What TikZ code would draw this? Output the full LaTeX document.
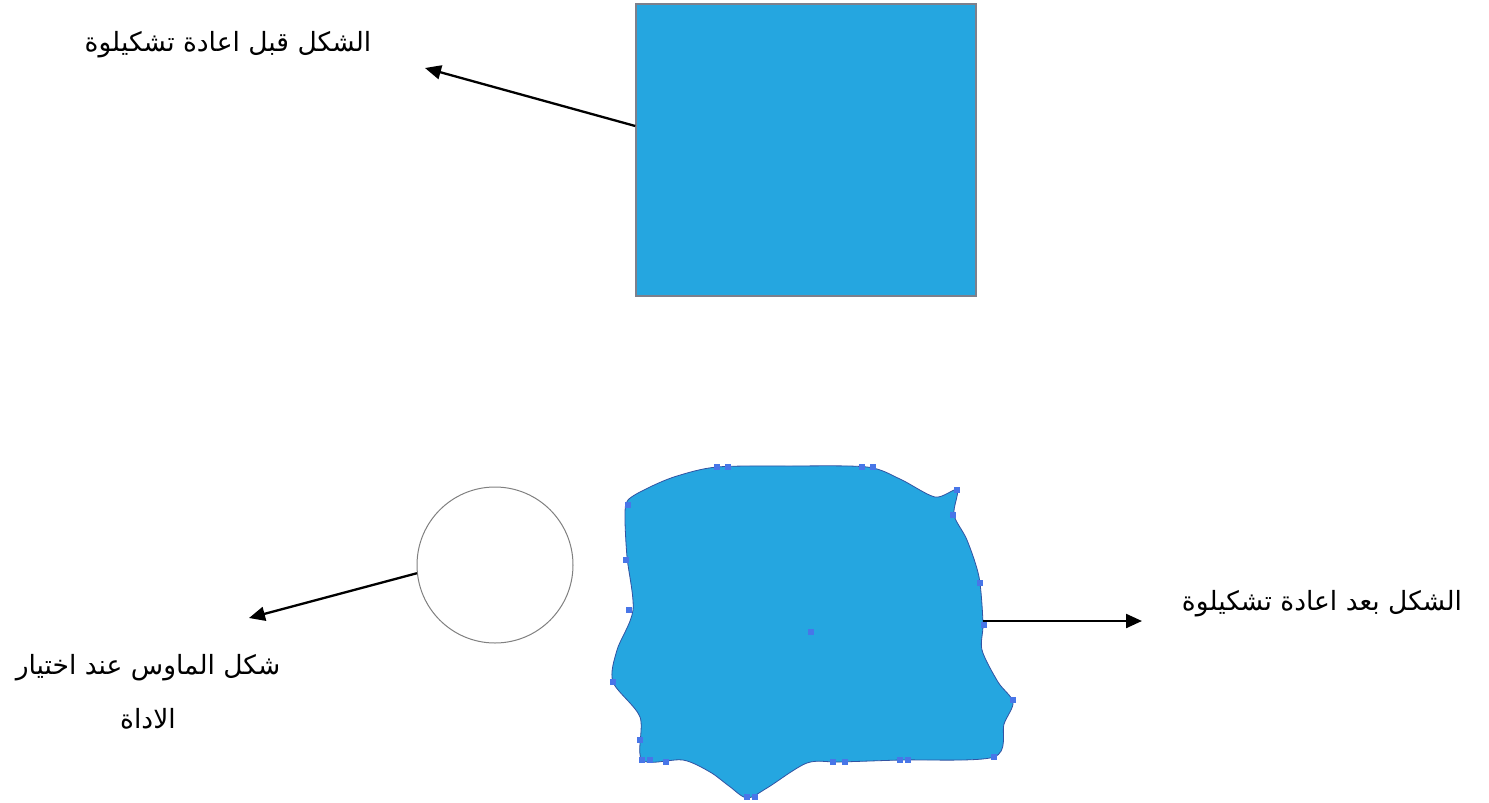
\documentclass[tikz,border=0pt]{standalone}
\usepackage{fontspec}
\usetikzlibrary{arrows.meta}
\newfontfamily\arabicfont[Script=Arabic]{DejaVu Sans}
\TeXXeTstate=1
\definecolor{shapeblue}{RGB}{37,166,224}
\definecolor{anchorblue}{RGB}{72,118,232}
\definecolor{edgegray}{RGB}{125,128,140}
\begin{document}
\begin{tikzpicture}[x=1pt,y=-1pt,
  lbl/.style={font=\arabicfont\fontsize{26.5}{54}\selectfont, inner sep=0pt, text=black},
  arr/.style={-{Triangle[length=16pt,width=14pt]}, line width=2.3pt, black},
  sqbox/.style={rectangle, fill=shapeblue, draw=edgegray, line width=1.5pt, minimum width=340pt, minimum height=292pt, inner sep=0pt},
  mousecirc/.style={circle, draw=gray, line width=1pt, minimum size=156pt, inner sep=0pt},
  handle/.style={fill=anchorblue, minimum size=6pt, inner sep=0pt, rectangle}]
\useasboundingbox (0,0) rectangle (1489,803);
\fill[white] (0,0) rectangle (1489,803);
% square before reshaping
\node[sqbox] (sq) at (806,150) {};
% mouse circle
\node[mousecirc] (mouse) at (495,565) {};
% reshaped blob
\fill[shapeblue, draw=anchorblue!70!black, line width=0.8pt] plot[smooth cycle, tension=0.5] coordinates {
 (628,500) (650,487) (677,476) (717,467) (790,466) (867,467) (900,479) (935,497)
 (957,490) (954,515) (967,540) (979,577) (983,623) (982,650) (998,682) (1013,702)
 (1004,724) (994,757) (900,760) (840,762) (807,763) (767,788) (747,798) (729,786)
 (710,772) (683,760) (642,760) (640,717) (613,682) (617,650) (633,610) (627,557) (625,517)};
\foreach \p in {(717,467),(728,467),(862,467),(873,467),(957,490),(953,515),(628,505),(626,560),(629,610),(613,682),(640,740),(642,760),(650,760),(666,762),(833,762),(845,762),(900,760),(908,760),(994,757),(1013,700),(980,583),(747,797),(755,797),(984,625)}
  \node[handle] at \p {};
\node[handle, minimum size=6pt] (center) at (811,632) {};
\coordinate (blobE) at (983,621);
% labels
\node[lbl] (t1) at (228,45) {\beginR الشكل قبل اعادة تشكيلوة\endR};
\node[lbl] (t3) at (1322,604) {\beginR الشكل بعد اعادة تشكيلوة\endR};
\node[lbl, align=center] (t2) at (148,692) {\beginR شكل الماوس عند اختيار\endR\\\beginR الاداة\endR};
% arrows
\coordinate (tip1) at (425,68);
\coordinate (tip2) at (249,618);
\coordinate (tip3) at (1142,621);
\draw[arr] (sq.172) -- (tip1);
\draw[arr] (mouse.186) -- (tip2);
\draw[arr] (blobE) -- (tip3);
\end{tikzpicture}
\end{document}
